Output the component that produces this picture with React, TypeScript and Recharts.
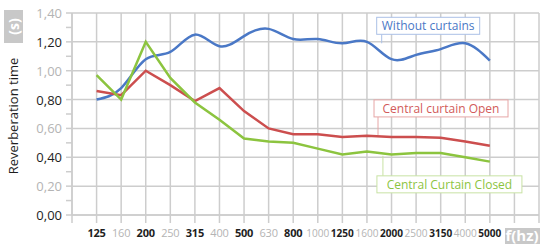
import { CartesianGrid, Line, LineChart, ReferenceDot, XAxis, YAxis } from 'recharts'

const FREQS = ['125', '160', '200', '250', '315', '400', '500', '630', '800', '1000', '1250', '1600', '2000', '2500', '3150', '4000', '5000']
const MAJOR_FREQS = ['125', '200', '315', '500', '800', '1250', '2000', '3150', '5000']
const WITHOUT_CURTAINS = [0.8, 0.88, 1.08, 1.13, 1.25, 1.17, 1.24, 1.29, 1.22, 1.22, 1.19, 1.2, 1.08, 1.11, 1.15, 1.19, 1.07]
const CURTAIN_OPEN = [0.86, 0.83, 1.0, 0.9, 0.79, 0.88, 0.72, 0.6, 0.56, 0.56, 0.54, 0.55, 0.54, 0.54, 0.535, 0.51, 0.48]
const CURTAIN_CLOSED = [0.97, 0.8, 1.2, 0.95, 0.78, 0.66, 0.53, 0.51, 0.5, 0.46, 0.42, 0.44, 0.42, 0.43, 0.43, 0.4, 0.37]
const Y_TICKS = [0, 0.1, 0.2, 0.3, 0.4, 0.5, 0.6, 0.7, 0.8, 0.9, 1.0, 1.1, 1.2, 1.3, 1.4]
const Y_GRID = [0, 0.2, 0.4, 0.6, 0.8, 1.0, 1.2, 1.4]
const Y_DARK = [0, 0.4, 0.8, 1.2]
const X_SLOTS = [-1, 0, 1, 2, 3, 4, 5, 6, 7, 8, 9, 10, 11, 12, 13, 14, 15, 16, 17, 18]

const BLUE = '#4a78c6'
const RED = '#cc4e4e'
const GREEN = '#8cc43f'
const GRID = '#cdcdcd'
const FONT = '"Open Sans", sans-serif'

const data = FREQS.map((f, i) => ({
  i,
  freq: f,
  without: WITHOUT_CURTAINS[i],
  open: CURTAIN_OPEN[i],
  closed: CURTAIN_CLOSED[i],
}))

function XTick({ x, y, payload }: any) {
  const label = FREQS[payload.value]
  if (!label) return null
  const major = MAJOR_FREQS.includes(label)
  const long = label.length > 3
  // four-digit labels are squeezed into the slot, like the original
  const squeeze = long ? { textLength: 23, lengthAdjust: 'spacingAndGlyphs' } : {}
  return (
    <text
      x={x}
      y={y + 12}
      textAnchor="middle"
      fontFamily={FONT}
      fontSize={long ? 10.5 : 11}
      letterSpacing={long ? 0 : -0.2}
      fontWeight={major ? 700 : 400}
      fill={major ? '#1e1e1e' : '#b4b4b4'}
      {...squeeze}
    >
      {label}
    </text>
  )
}

function YTick({ x, y, payload }: any) {
  const v = Math.round(payload.value * 10) / 10
  if (!Y_GRID.some((g) => Math.abs(g - v) < 1e-6)) return null
  const dark = Y_DARK.some((g) => Math.abs(g - v) < 1e-6)
  return (
    <text
      x={x - 2}
      y={y + 5}
      textAnchor="end"
      fontFamily={FONT}
      fontSize={13}
      fill={dark ? '#1e1e1e' : '#b4b4b4'}
    >
      {v.toFixed(2).replace('.', ',')}
    </text>
  )
}

function callout(text: string, color: string, border: string, dx: number, dy: number, w: number) {
  return ({ cx, cy }: any) => {
    const top = cy + dy
    const boxBottom = top + 17
    const lineEnd = dy < 0 ? boxBottom : top
    return (
      <g>
        <line x1={cx} y1={cy} x2={cx} y2={lineEnd} stroke={border} strokeWidth={1} />
        <rect x={cx + dx} y={top} width={w} height={17} fill="#fff" stroke={border} strokeWidth={1} />
        <text x={cx + dx + w / 2} y={top + 13} textAnchor="middle" fontFamily={FONT} fontSize={12} fill={color}>
          {text}
        </text>
      </g>
    )
  }
}

export default function App() {
  return (
    <div style={{ position: 'absolute', left: 0, top: 0, width: 540, height: 244, background: '#fff' }}>
      <LineChart width={540} height={244} data={data} margin={{ top: 13, right: 1, bottom: 0, left: 0 }}>
        <CartesianGrid stroke={GRID} strokeWidth={1.5} horizontalValues={Y_GRID} verticalValues={X_SLOTS} />
        <XAxis
          dataKey="i"
          type="number"
          domain={[-1, 18]}
          ticks={X_SLOTS}
          interval={0}
          height={29}
          tickSize={8}
          axisLine={{ stroke: GRID, strokeWidth: 1.5 }}
          tickLine={{ stroke: GRID, strokeWidth: 1.5 }}
          tick={<XTick />}
        />
        <YAxis
          type="number"
          domain={[0, 1.4]}
          ticks={Y_TICKS}
          interval={0}
          width={72}
          tickSize={6}
          axisLine={{ stroke: GRID, strokeWidth: 1.5 }}
          tickLine={{ stroke: GRID, strokeWidth: 1.5 }}
          tick={<YTick />}
        />
        <Line type="natural" dataKey="without" stroke={BLUE} strokeWidth={2.5} dot={false} isAnimationActive={false} />
        <Line type="linear" dataKey="open" stroke={RED} strokeWidth={2.5} dot={false} isAnimationActive={false} />
        <Line type="linear" dataKey="closed" stroke={GREEN} strokeWidth={2.5} dot={false} isAnimationActive={false} />
        <ReferenceDot x={11.6} y={1.19} r={0} shape={callout('Without curtains', BLUE, '#abc0e6', -5, -26, 103)} />
        <ReferenceDot x={11.45} y={0.555} r={0} shape={callout('Central curtain Open', '#d25a5a', '#e6a6a6', -4, -35, 134)} />
        <ReferenceDot x={11.65} y={0.41} r={0} shape={callout('Central Curtain Closed', GREEN, '#c8e2a4', -6, 20, 145)} />
      </LineChart>
      <svg width={540} height={244} style={{ position: 'absolute', left: 0, top: 0, pointerEvents: 'none' }}>
        <rect x={4} y={10} width={19} height={33} fill="#c8c8c8" />
        <text
          x={13.5}
          y={26.5}
          transform="rotate(-90 13.5 26.5)"
          textAnchor="middle"
          dominantBaseline="central"
          fontFamily={FONT}
          fontWeight={700}
          fontSize={14}
          fill="#fff"
        >
          (s)
        </text>
        <text
          x={13}
          y={116}
          transform="rotate(-90 13 116)"
          textAnchor="middle"
          dominantBaseline="central"
          fontFamily={FONT}
          fontSize={13}
          fill="#1e1e1e"
        >
          Reverberation time
        </text>
        <rect x={505} y={228} width={35} height={16} fill="#c8c8c8" />
        <text x={522} y={241} textAnchor="middle" fontFamily={FONT} fontWeight={700} fontSize={15} fill="#fff">
          f(hz)
        </text>
      </svg>
    </div>
  )
}
